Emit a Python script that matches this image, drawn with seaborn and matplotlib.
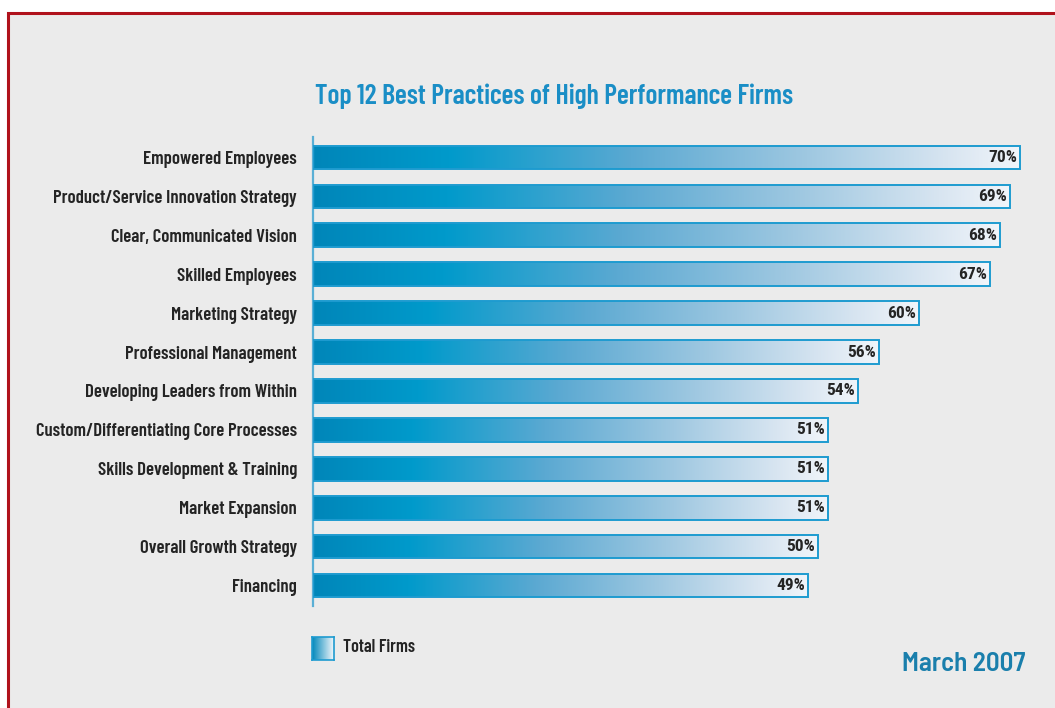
import numpy as np
import pandas as pd
import matplotlib
matplotlib.use("Agg")
import matplotlib.pyplot as plt
from matplotlib.colors import LinearSegmentedColormap
from matplotlib.patches import Rectangle
import seaborn as sns

# Survey data
practices = [
    "Empowered Employees",
    "Product/Service Innovation Strategy",
    "Clear, Communicated Vision",
    "Skilled Employees",
    "Marketing Strategy",
    "Professional Management",
    "Developing Leaders from Within",
    "Custom/Differentiating Core Processes",
    "Skills Development & Training",
    "Market Expansion",
    "Overall Growth Strategy",
    "Financing",
]
total_firms = [70, 69, 68, 67, 60, 56, 54, 51, 51, 51, 50, 49]
series_name = "Total Firms"
title_text = "Top 12 Best Practices of High Performance Firms"
date_text = "March 2007"

df = pd.DataFrame({"practice": practices, "pct": total_firms})

sns.set_theme(style="white")
COND = ["Barlow Condensed", "Roboto Condensed", "DejaVu Sans"]
NUM = ["Roboto Condensed", "Barlow Condensed", "DejaVu Sans"]
SEMI = ["Barlow Semi Condensed", "Barlow", "DejaVu Sans"]
plt.rcParams["font.family"] = COND

BG = "#EBEBEB"
BLUE_EDGE = "#1E9BD0"
TEXT = "#242424"

fig = plt.figure(figsize=(10.55, 7.08), dpi=100, facecolor="white")
W, H = 1055, 708

# panel with red frame
fig.patches.append(Rectangle((8 / W, -0.05), 1.2, (H - 13) / H + 0.05,
                             transform=fig.transFigure, facecolor=BG,
                             edgecolor="#B0121C", linewidth=2.2, zorder=-10))

ax_left, ax_right = 313, 1035
ax_top, ax_bot = 137, 606
ax = fig.add_axes([ax_left / W, 1 - ax_bot / H, (ax_right - ax_left) / W, (ax_bot - ax_top) / H])
ax.set_facecolor("none")

sns.barplot(data=df, x="pct", y="practice", orient="h", ax=ax, width=0.59,
            color=BLUE_EDGE, edgecolor=BLUE_EDGE, linewidth=1.4, saturation=1)

px_per_unit = 10.1
xmax = (ax_right - ax_left) / px_per_unit

grad = LinearSegmentedColormap.from_list("fade", [
    (0.00, "#0086B9"),
    (0.19, "#009ACB"),
    (0.45, "#5BA9D2"),
    (0.70, "#9FC8E1"),
    (0.90, "#D8E5F1"),
    (1.00, "#F1F5FA"),
])
gvals = np.linspace(0, 1, 256).reshape(1, -1)

for patch, v in zip(ax.patches, total_firms):
    x0 = patch.get_x()
    y0 = patch.get_y()
    h = patch.get_height()
    w = patch.get_width()
    patch.set_facecolor("none")
    patch.set_zorder(3)
    im = ax.imshow(gvals, cmap=grad, aspect="auto", extent=(x0, x0 + w, y0 + h, y0),
                   interpolation="bilinear", zorder=2)
    im.set_clip_path(patch)
    ax.text(x0 + w - 0.3, y0 + h / 2, f"{v}%", ha="right", va="center",
            fontsize=12.5, fontweight="bold", color=TEXT, zorder=4, family=NUM)

ax.set_ylim(len(practices) - 0.487, -0.513)
ax.set_xlim(0, xmax)

ax.set_xlabel("")
ax.set_ylabel("")
ax.set_xticks([])
for s in ["top", "right", "bottom"]:
    ax.spines[s].set_visible(False)
ax.spines["left"].set_color("#5AAFD5")
ax.spines["left"].set_linewidth(1.6)
ax.tick_params(axis="y", length=0, pad=11.5)
for lbl in ax.get_yticklabels():
    lbl.set_fontsize(13.5)
    lbl.set_fontweight("semibold")
    lbl.set_color(TEXT)

fig.text(554 / W, 1 - 96 / H, title_text, ha="center", va="center",
         fontsize=20, fontweight="semibold", color="#1A8EC6")

# legend swatch
lax = fig.add_axes([312 / W, 1 - 660 / H, 22 / W, 23 / H])
lax.imshow(gvals, cmap=LinearSegmentedColormap.from_list("sw", ["#0088BB", "#F4F7FB"]),
           aspect="auto", extent=(0, 1, 0, 1))
lax.set_xticks([]); lax.set_yticks([])
for s in lax.spines.values():
    s.set_color(BLUE_EDGE)
    s.set_linewidth(1.2)
fig.text(343 / W, 1 - 648 / H, series_name, ha="left", va="center",
         fontsize=13, fontweight="semibold", color=TEXT)

fig.text(1025 / W, 1 - 664 / H, date_text, ha="right", va="center",
         fontsize=19.5, fontweight="semibold", color="#1A7FAC", family=SEMI)

fig.savefig("out.png", dpi=100, facecolor="white")
